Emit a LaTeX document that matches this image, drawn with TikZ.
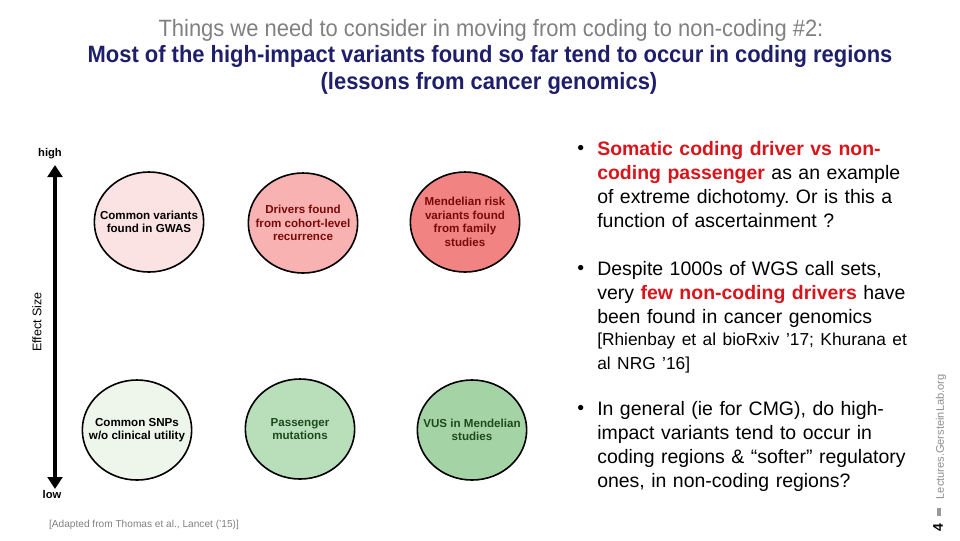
\documentclass[tikz,border=0pt]{standalone}
\usepackage{fontspec}
\setmainfont{Liberation Sans}
\newfontfamily\narrowfont[FakeStretch=0.93]{Liberation Sans}
\usepackage{tikz}
\usetikzlibrary{positioning,arrows.meta,shapes.geometric}
\frenchspacing

\definecolor{titlegray}{HTML}{808080}
\definecolor{titlenavy}{HTML}{1E1E6B}
\definecolor{hotred}{HTML}{D8151B}
\definecolor{darkred}{HTML}{7A0A0A}
\definecolor{darkgreen}{HTML}{1E4A1E}
\definecolor{pinkA}{HTML}{FCE3E3}
\definecolor{pinkB}{HTML}{F8B2B2}
\definecolor{pinkC}{HTML}{F28383}
\definecolor{greenA}{HTML}{EEF6EC}
\definecolor{greenB}{HTML}{B8DFBA}
\definecolor{greenC}{HTML}{A4D4A6}

\begin{document}
\begin{tikzpicture}[x=0.75pt, y=-0.75pt,
    variant/.style={ellipse, draw, line width=1.2pt, minimum width=82pt, minimum height=75pt, inner sep=0pt},
    vtext/.style={align=center, font=\bfseries\fontsize{8.7}{10.2}\selectfont, inner sep=0pt},
    axislabel/.style={font=\fontsize{8.4}{10}\selectfont, inner sep=0pt},
    bul/.style={anchor=base west, inner sep=0pt, font=\fontsize{14.6}{18}\selectfont},
    point/.style={anchor=north west, inner sep=0pt, align=left, text width=260pt, font=\fontsize{14.6}{18}\selectfont},
    axis/.style={line width=3.2pt, {Triangle[length=9pt, width=11pt]}-{Triangle[length=9pt, width=11pt]}},
  ]
  \useasboundingbox (0,0) rectangle (960,540);

  % title
  \node[font=\narrowfont\fontsize{17.7}{20}\selectfont, text=titlegray] (title) at (491,30) {Things we need to consider in moving from coding to non-coding \#2:};
  \node[font=\narrowfont\bfseries\fontsize{17.7}{20}\selectfont, text=titlenavy] (subtitle) at (490,56) {Most of the high-impact variants found so far tend to occur in coding regions};
  \node[font=\narrowfont\bfseries\fontsize{17.7}{20}\selectfont, text=titlenavy] (lessons) at (489,83) {(lessons from cancer genomics)};

  % effect size axis
  \node[axislabel, font=\bfseries\fontsize{8.4}{10}\selectfont] (high) at (50,154) {high};
  \node[axislabel, font=\bfseries\fontsize{8.4}{10}\selectfont] (low) at (52,494) {low};
  \node[axislabel, font=\fontsize{9.4}{11}\selectfont, rotate=90] (esize) at (37,322) {Effect Size};
  \coordinate (axtop) at (55,165);
  \coordinate (axbot) at (55,489);
  \draw[axis] (axbot) -- (axtop);

  % high effect row
  \node[variant, fill=pinkA, label={[vtext]center:Common variants\\found in GWAS}] (gwas) at (149,222) {};
  \node[variant, fill=pinkB, label={[vtext, text=darkred]center:Drivers found\\from cohort-level\\recurrence}] (drivers) at (303,223) {};
  \node[variant, fill=pinkC, label={[vtext, text=darkred]center:Mendelian risk\\variants found\\from family\\studies}] (mendel) at (465,222) {};

  % low effect row
  \node[variant, fill=greenA, label={[vtext]center:Common SNPs\\w/o clinical utility}] (snps) at (137,430) {};
  \node[variant, fill=greenB, label={[vtext, text=darkgreen]center:Passenger\\mutations}] (passenger) at (300,429) {};
  \node[variant, fill=greenC, label={[vtext, text=darkgreen]center:VUS in Mendelian\\studies}] (vus) at (472,430) {};

  \node[font=\fontsize{7.6}{9}\selectfont, text=titlegray] (source) at (144,525) {[Adapted from Thomas et al., Lancet (’15)]};

  % bullet points
  \node[bul] (b1) at (577,154) {•};
  \node[point] (p1) at (597,141) {{\color{hotred}\bfseries Somatic coding driver vs non-\\coding passenger} as an example\\of extreme dichotomy. Or is this a\\function of ascertainment ?};
  \node[bul] (b2) at (577,274) {•};
  \node[point] (p2) at (597,261) {Despite 1000s of WGS call sets,\\very {\color{hotred}\bfseries few non-coding drivers} have\\been found in cancer genomics\\[1pt]
    {\fontsize{13}{15.8}\selectfont [Rhienbay et al bioRxiv ’17; Khurana et\\al NRG ’16]}};
  \node[bul] (b3) at (577,414) {•};
  \node[point] (p3) at (597,401) {In general (ie for CMG), do high-\\impact variants tend to occur in\\coding regions \& “softer” regulatory\\ones, in non-coding regions?};

  % slide footer
  \node[font=\bfseries\fontsize{10.5}{12}\selectfont, rotate=90] (pagenum) at (938,528) {4};
  \node[fill=titlegray!80, minimum width=3pt, minimum height=6pt, inner sep=0pt] (sep) at (939,512) {};
  \node[font=\fontsize{8.3}{9}\selectfont, text=titlegray!90, rotate=90, anchor=west] (site) at (941,504) {Lectures.GersteinLab.org};
\end{tikzpicture}
\end{document}
